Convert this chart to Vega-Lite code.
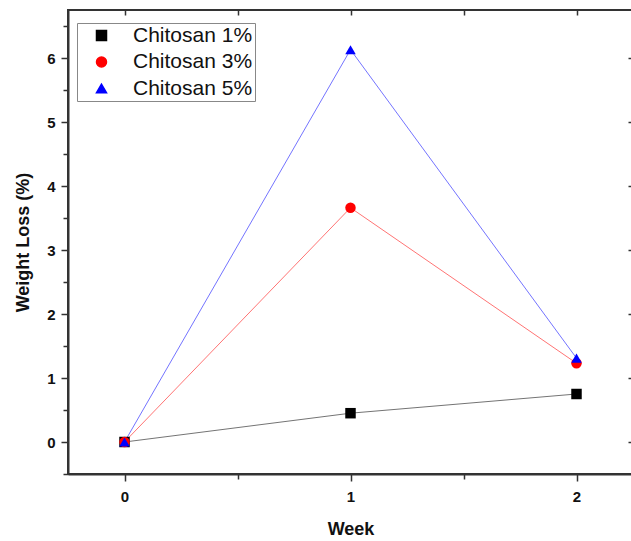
{
  "$schema": "https://vega.github.io/schema/vega-lite/v6.json",
  "autosize": "none",
  "padding": {"left": 68, "top": 10, "right": 0, "bottom": 67},
  "width": 565,
  "height": 464,
  "background": "white",
  "config": {
    "font": "Liberation Sans",
    "view": {"stroke": "#333", "strokeWidth": 2},
    "axis": {
      "domainColor": "#333",
      "domainWidth": 2,
      "tickColor": "#333",
      "tickWidth": 1.5,
      "grid": false,
      "labelFont": "Liberation Sans",
      "labelFontWeight": "bold",
      "labelFontSize": 15,
      "labelColor": "#111",
      "titleFont": "Liberation Sans",
      "titleFontWeight": "bold",
      "titleFontSize": 18,
      "titleColor": "#111"
    }
  },
  "data": {
    "values": [
      {"week": 0, "loss": 0.0, "series": "Chitosan 1%"},
      {"week": 1, "loss": 0.45, "series": "Chitosan 1%"},
      {"week": 2, "loss": 0.75, "series": "Chitosan 1%"},
      {"week": 0, "loss": 0.0, "series": "Chitosan 3%"},
      {"week": 1, "loss": 3.66, "series": "Chitosan 3%"},
      {"week": 2, "loss": 1.23, "series": "Chitosan 3%"},
      {"week": 0, "loss": 0.0, "series": "Chitosan 5%"},
      {"week": 1, "loss": 6.13, "series": "Chitosan 5%"},
      {"week": 2, "loss": 1.31, "series": "Chitosan 5%"}
    ]
  },
  "layer": [
    {
      "mark": {"type": "line", "strokeWidth": 1, "opacity": 0.55},
      "encoding": {
        "x": {"field": "week", "type": "quantitative", "scale": {"domain": [-0.25, 2.25], "nice": false, "zero": false},
          "axis": {"orient": "bottom", "title": "Week", "values": [0, 0.5, 1, 1.5, 2], "format": ".0f", "labelExpr": "datum.value % 1 === 0 ? datum.label : ''",
            "tickSize": {"condition": {"test": "datum.value % 1 === 0", "value": 7}, "value": 5}, "labelPadding": 8, "titlePadding": 16}},
        "y": {"field": "loss", "type": "quantitative", "scale": {"domain": [-0.5, 6.75], "nice": false, "zero": false},
          "axis": {"orient": "left", "title": "Weight Loss (%)", "values": [-0.5, 0, 0.5, 1, 1.5, 2, 2.5, 3, 3.5, 4, 4.5, 5, 5.5, 6, 6.5], "format": ".0f", "labelExpr": "datum.value % 1 === 0 ? datum.label : ''",
            "tickSize": {"condition": {"test": "datum.value % 1 === 0", "value": 7}, "value": 5}, "labelPadding": 6, "titlePadding": 14}},
        "color": {"field": "series", "type": "nominal", "scale": {"domain": ["Chitosan 1%", "Chitosan 3%", "Chitosan 5%"], "range": ["#000000", "#ff0000", "#0000ff"]},
          "legend": {
            "orient": "none", "legendX": 9, "legendY": 13, "title": null,
            "padding": 2, "strokeColor": "#888", "fillColor": "white",
            "labelFont": "Liberation Sans", "labelFontSize": 21, "labelColor": "#111",
            "symbolSize": 100, "symbolOffset": 12, "labelOffset": 21, "rowPadding": 4.5,
            "symbolOpacity": 1
          }},
        "detail": {"field": "series"}
      }
    },
    {
      "mark": {"type": "point", "filled": true, "opacity": 1, "size": 110},
      "encoding": {
        "x": {"field": "week", "type": "quantitative", "axis": null},
        "y": {"field": "loss", "type": "quantitative", "axis": null},
        "color": {"field": "series", "type": "nominal"},
        "shape": {"field": "series", "type": "nominal", "scale": {"domain": ["Chitosan 1%", "Chitosan 3%", "Chitosan 5%"], "range": ["square", "circle", "triangle-up"]}, "legend": null}
      }
    },
    {
      "mark": {"type": "point", "opacity": 0},
      "encoding": {
        "x": {"field": "week", "type": "quantitative",
          "axis": {"orient": "top", "title": null, "labels": false, "domain": false, "values": [0, 0.5, 1, 1.5, 2], "tickSize": -5}},
        "y": {"field": "loss", "type": "quantitative",
          "axis": {"orient": "right", "title": null, "labels": false, "domain": false, "values": [0, 1, 2, 3, 4, 5, 6], "tickSize": -5}}
      }
    }
  ],
  "resolve": {"axis": {"x": "independent", "y": "independent"}}
}
